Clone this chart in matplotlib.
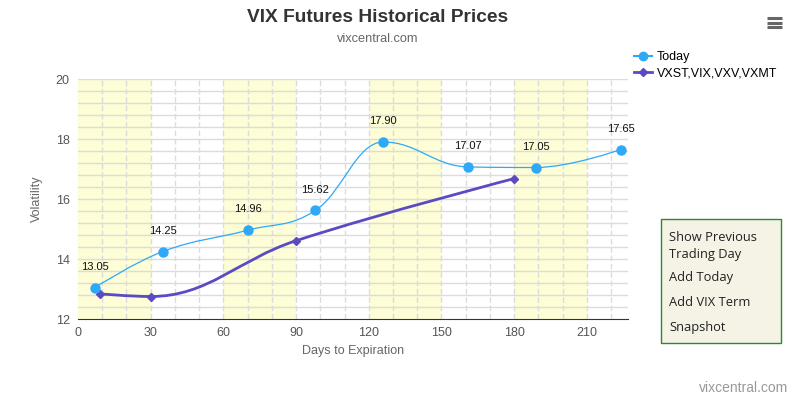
import matplotlib.pyplot as plt
from matplotlib.path import Path
from matplotlib.patches import PathPatch, FancyBboxPatch
from matplotlib.lines import Line2D

# data
today_days = [7, 35, 70, 98, 126, 161, 189, 224]
today_vals = [13.05, 14.25, 14.96, 15.62, 17.90, 17.07, 17.05, 17.65]
index_days = [9, 30, 90, 180]
index_vals = [12.84, 12.75, 14.61, 16.68]
index_name = 'VXST,VIX,VXV,VXMT'
bands = [(0, 30), (60, 90), (120, 150), (180, 210)]
menu_items = ['Show Previous\nTrading Day', 'Add Today', 'Add VIX Term', 'Snapshot']

c_today = '#2ea9f7'
c_index = '#5a4bc2'
plt.rcParams['font.family'] = ['Liberation Sans', 'DejaVu Sans']


def spline_path(xs, ys, smoothing=1.5):
    # highcharts style spline, control points per point
    denom = smoothing + 1
    n = len(xs)
    left, right = [], []
    for i in range(n):
        x, y = xs[i], ys[i]
        if i == 0 or i == n - 1:
            left.append((x, y))
            right.append((x, y))
            continue
        lx, ly = xs[i - 1], ys[i - 1]
        nx, ny = xs[i + 1], ys[i + 1]
        lcx = (smoothing * x + lx) / denom
        lcy = (smoothing * y + ly) / denom
        rcx = (smoothing * x + nx) / denom
        rcy = (smoothing * y + ny) / denom
        corr = (rcy - lcy) * (rcx - x) / (rcx - lcx) + y - rcy
        lcy += corr
        rcy += corr
        if lcy > ly and lcy > y:
            lcy = max(ly, y)
            rcy = 2 * y - lcy
        elif lcy < ly and lcy < y:
            lcy = min(ly, y)
            rcy = 2 * y - lcy
        if rcy > ny and rcy > y:
            rcy = max(ny, y)
            lcy = 2 * y - rcy
        elif rcy < ny and rcy < y:
            rcy = min(ny, y)
            lcy = 2 * y - rcy
        left.append((lcx, lcy))
        right.append((rcx, rcy))
    verts = [(xs[0], ys[0])]
    codes = [Path.MOVETO]
    for i in range(1, n):
        verts += [right[i - 1], left[i], (xs[i], ys[i])]
        codes += [Path.CURVE4] * 3
    return Path(verts, codes)


fig = plt.figure(figsize=(7.98, 3.98), dpi=100)
ax = fig.add_axes([78 / 798, 1 - 319 / 398, 550 / 798, 240 / 398])
ax.set_xlim(0, 227)
ax.set_ylim(12, 20)

for a, b in bands:
    ax.axvspan(a, b, color='#fdfdd6', lw=0, zorder=0)
for v in range(10, 227, 10):
    ax.axvline(v, color='#dcdcdc', lw=1, ls=(0, (4, 2)), zorder=1)
y = 12.4
while y < 20.01:
    ax.axhline(y, color='#dcdcdc', lw=1, zorder=1)
    y += 0.4

ax.add_patch(PathPatch(spline_path(index_days, index_vals), fill=False,
                       edgecolor=c_index, lw=2, zorder=3))
ax.plot(index_days, index_vals, ls='none', marker='D', ms=4.5, color=c_index, zorder=4)
ax.add_patch(PathPatch(spline_path(today_days, today_vals), fill=False,
                       edgecolor=c_today, lw=0.9, zorder=5))
ax.plot(today_days, today_vals, ls='none', marker='o', ms=6.5, color=c_today, zorder=6)
for d, v in zip(today_days, today_vals):
    ax.annotate('%.2f' % v, (d, v), xytext=(0, 15), textcoords='offset points',
                ha='center', va='center', fontsize=8, color='#111111', zorder=7)

ax.set_xticks(range(0, 211, 30))
ax.set_yticks(range(12, 21, 2))
ax.tick_params(length=0, labelsize=9, labelcolor='#555555', pad=6)
for s in ['top', 'right', 'left']:
    ax.spines[s].set_visible(False)
ax.spines['bottom'].set_color('#333333')
ax.set_xlabel('Days to Expiration', fontsize=9, color='#666666', labelpad=4)
ax.set_ylabel('Volatility', fontsize=9, color='#666666', labelpad=9)

fig.text(378 / 798, 1 - 18 / 398, 'VIX Futures Historical Prices', ha='center', va='center',
         fontsize=13.8, fontweight='bold', color='#333333')
fig.text(378 / 798, 1 - 39 / 398, 'vixcentral.com', ha='center', va='center',
         fontsize=9.2, color='#666666')
fig.text(788 / 798, 1 - 388 / 398, 'vixcentral.com', ha='right', va='center',
         fontsize=10, color='#999999')

handles = [Line2D([], [], color=c_today, lw=1.5, marker='o', ms=6),
           Line2D([], [], color=c_index, lw=2, marker='D', ms=4)]
fig.legend(handles, ['Today', index_name], loc='upper left',
           bbox_to_anchor=(629 / 798, 1 - 46 / 398), frameon=False, fontsize=9,
           handlelength=1.4, handletextpad=0.4, labelspacing=0.35, borderaxespad=0)

# menu icon
for yy in [18, 22.5, 27]:
    fig.add_artist(Line2D([767 / 798, 782 / 798], [1 - yy / 398] * 2,
                          color='#666666', lw=2.2, solid_capstyle='butt'))

# button box
fig.add_artist(FancyBboxPatch((661 / 798, 1 - 343 / 398), 120 / 798, 124 / 398,
                              boxstyle='square,pad=0', transform=fig.transFigure,
                              facecolor='#f5f2e6', edgecolor='#2a8a2a', lw=1))
ys = [246, 278, 303, 327]
for t, yy in zip(menu_items, ys):
    fig.text(669 / 798, 1 - yy / 398, t, ha='left', va='center', fontsize=9.3,
             color='#222222', family=['Open Sans', 'DejaVu Sans'], linespacing=1.4)

fig.savefig('out.png', dpi=100)
